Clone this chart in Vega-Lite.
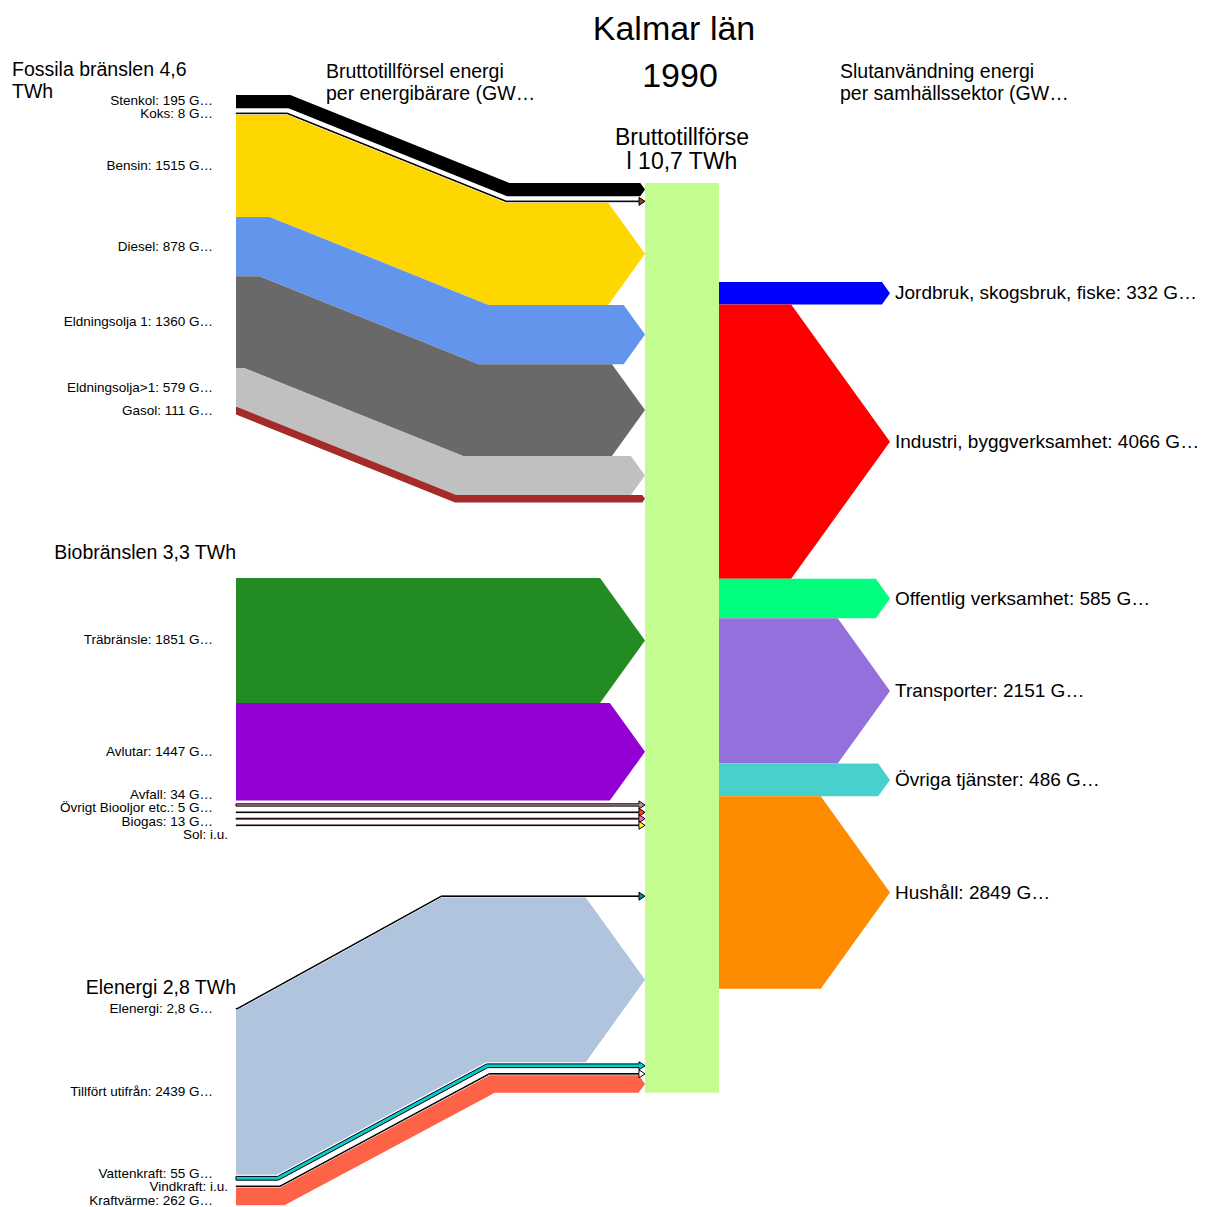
{
  "$schema": "https://vega.github.io/schema/vega-lite/v6.json",
  "width": 1205,
  "height": 1207,
  "autosize": {"type": "none"},
  "padding": 0,
  "background": "white",
  "config": {"view": {"stroke": null}, "text": {"font": "Liberation Sans", "color": "black"}},
  "datasets": {
    "sources": [
      {"group": "fossil", "ord": 1, "name": "Stenkol", "gwh": 195, "label": "Stenkol: 195 G…"},
      {"group": "fossil", "ord": 2, "name": "Koks", "gwh": 8, "label": "Koks: 8 G…"},
      {"group": "fossil", "ord": 3, "name": "Bensin", "gwh": 1515, "label": "Bensin: 1515 G…"},
      {"group": "fossil", "ord": 4, "name": "Diesel", "gwh": 878, "label": "Diesel: 878 G…"},
      {"group": "fossil", "ord": 5, "name": "Eldningsolja 1", "gwh": 1360, "label": "Eldningsolja 1: 1360 G…"},
      {"group": "fossil", "ord": 6, "name": "Eldningsolja>1", "gwh": 579, "label": "Eldningsolja>1: 579 G…"},
      {"group": "fossil", "ord": 7, "name": "Gasol", "gwh": 111, "label": "Gasol: 111 G…"},
      {"group": "bio", "ord": 1, "name": "Träbränsle", "gwh": 1851, "label": "Träbränsle: 1851 G…"},
      {"group": "bio", "ord": 2, "name": "Avlutar", "gwh": 1447, "label": "Avlutar: 1447 G…"},
      {"group": "bio", "ord": 3, "name": "Avfall", "gwh": 34, "label": "Avfall: 34 G…"},
      {"group": "bio", "ord": 4, "name": "Övrigt Biooljor etc.", "gwh": 5, "label": "Övrigt Biooljor etc.: 5 G…"},
      {"group": "bio", "ord": 5, "name": "Biogas", "gwh": 13, "label": "Biogas: 13 G…"},
      {"group": "bio", "ord": 6, "name": "Sol", "gwh": 0, "label": "Sol: i.u."},
      {"group": "el", "ord": 1, "name": "Elenergi", "gwh": 2.8, "label": "Elenergi: 2,8 G…"},
      {"group": "el", "ord": 2, "name": "Tillfört utifrån", "gwh": 2439, "label": "Tillfört utifrån: 2439 G…"},
      {"group": "el", "ord": 3, "name": "Vattenkraft", "gwh": 55, "label": "Vattenkraft: 55 G…"},
      {"group": "el", "ord": 4, "name": "Vindkraft", "gwh": 0, "label": "Vindkraft: i.u."},
      {"group": "el", "ord": 5, "name": "Kraftvärme", "gwh": 262, "label": "Kraftvärme: 262 G…"}
    ],
    "sectors": [
      {"ord": 1, "name": "Jordbruk, skogsbruk, fiske", "gwh": 332, "label": "Jordbruk, skogsbruk, fiske: 332 G…"},
      {"ord": 2, "name": "Industri, byggverksamhet", "gwh": 4066, "label": "Industri, byggverksamhet: 4066 G…"},
      {"ord": 3, "name": "Offentlig verksamhet", "gwh": 585, "label": "Offentlig verksamhet: 585 G…"},
      {"ord": 4, "name": "Transporter", "gwh": 2151, "label": "Transporter: 2151 G…"},
      {"ord": 5, "name": "Övriga tjänster", "gwh": 486, "label": "Övriga tjänster: 486 G…"},
      {"ord": 6, "name": "Hushåll", "gwh": 2849, "label": "Hushåll: 2849 G…"}
    ]
  },
  "layer": [
    {
      "data": {"name": "sources"},
      "transform": [
        {"calculate": "datum.gwh * 0.0675", "as": "h"},
        {"calculate": "max(datum.h, 6.5)", "as": "slot"},
        {"calculate": "datum.slot > datum.h", "as": "tiny"},
        {"window": [{"op": "sum", "field": "slot", "as": "cum"}, {"op": "row_number", "as": "rank"}], "groupby": ["group"], "sort": [{"field": "ord", "order": "ascending"}], "frame": [null, 0]},
        {"joinaggregate": [{"op": "sum", "field": "slot", "as": "gtot"}], "groupby": ["group"]},
        {"calculate": "datum.group === 'fossil' ? 95 : datum.group === 'bio' ? 578 : 1003.5", "as": "L0"},
        {"calculate": "datum.group === 'fossil' ? 183 : datum.group === 'bio' ? 578 : 891", "as": "R0"},
        {"calculate": "datum.tiny ? max(datum.h, 0.6) : datum.h", "as": "core"},
        {"calculate": "datum.tiny ? datum.cum - datum.core / 2 - 1 : datum.cum - datum.slot / 2", "as": "ec"},
        {"calculate": "datum.ec - datum.core / 2", "as": "eT"},
        {"calculate": "datum.ec + datum.core / 2", "as": "eB"},
        {"calculate": "datum.group === 'fossil' ? 236 + 0.17 * (datum.gtot - datum.eT) : datum.group === 'el' ? 236 + 0.24 * datum.eT : 300", "as": "aT"},
        {"calculate": "datum.group === 'fossil' ? 236 + 0.17 * (datum.gtot - datum.eB) : datum.group === 'el' ? 236 + 0.24 * datum.eB : 300", "as": "aB"},
        {"calculate": "datum.group === 'fossil' ? 455 + 0.17 * (datum.gtot - datum.eT) : datum.group === 'el' ? 440 + 0.27 * datum.eT : 500", "as": "bT"},
        {"calculate": "datum.group === 'fossil' ? 455 + 0.17 * (datum.gtot - datum.eB) : datum.group === 'el' ? 440 + 0.27 * datum.eB : 500", "as": "bB"},
        {"calculate": "datum.tiny ? 4 : datum.core / 2", "as": "ah"},
        {"calculate": "645 - (datum.tiny ? 6 : 0.36 * datum.core)", "as": "c"},
        {"calculate": "datum.L0 + datum.ec", "as": "yLC"},
        {"calculate": "datum.R0 + datum.ec", "as": "yRC"}
      ],
      "layer": [
        {
          "transform": [
            {"calculate": "datum.R0 + datum.cum - datum.slot", "as": "rt"},
            {"calculate": "datum.R0 + datum.cum", "as": "rb"},
            {"aggregate": [{"op": "min", "field": "rt", "as": "bt"}, {"op": "max", "field": "rb", "as": "bb"}]}
          ],
          "mark": {"type": "rect", "color": "#C4FD8F"},
          "encoding": {
            "x": {"datum": 645, "type": "quantitative", "scale": {"domain": [0, 1205], "nice": false, "zero": false}, "axis": null},
            "x2": {"datum": 719},
            "y": {"field": "bt", "type": "quantitative", "scale": {"domain": [0, 1207], "nice": false, "zero": false, "reverse": true}, "axis": null},
            "y2": {"field": "bb"}
          }
        },
        {
          "transform": [
            {"filter": "!datum.tiny"},
            {"fold": ["s0", "s1", "s2", "s3", "s4", "s5", "s6", "s7"]},
            {"calculate": "datum.key === 's0' ? 236 : datum.key === 's1' ? datum.aT : datum.key === 's2' ? datum.aB : datum.key === 's3' ? datum.bT : datum.key === 's4' ? datum.bB : datum.key === 's5' ? datum.c - 0.01 : datum.key === 's6' ? datum.c : 645", "as": "xs"},
            {"calculate": "datum.key === 's6' ? datum.yRC - datum.ah : datum.key === 's7' ? datum.yRC : datum.L0 + datum.eT + (datum.R0 - datum.L0) * clamp((datum.xs - datum.aT) / (datum.bT - datum.aT), 0, 1)", "as": "yt"},
            {"calculate": "datum.key === 's6' ? datum.yRC + datum.ah : datum.key === 's7' ? datum.yRC : datum.L0 + datum.eB + (datum.R0 - datum.L0) * clamp((datum.xs - datum.aB) / (datum.bB - datum.aB), 0, 1)", "as": "yb"}
          ],
          "mark": {"type": "area", "interpolate": "linear"},
          "encoding": {
            "x": {"field": "xs", "type": "quantitative", "scale": {"domain": [0, 1205], "nice": false, "zero": false}, "axis": null},
            "y": {"field": "yt", "type": "quantitative", "stack": null, "scale": {"domain": [0, 1207], "nice": false, "zero": false, "reverse": true}, "axis": null},
            "y2": {"field": "yb"},
            "color": {"field": "name", "type": "nominal", "legend": null, "scale": {
              "domain": ["Stenkol", "Koks", "Bensin", "Diesel", "Eldningsolja 1", "Eldningsolja>1", "Gasol", "Träbränsle", "Avlutar", "Avfall", "Övrigt Biooljor etc.", "Biogas", "Sol", "Elenergi", "Tillfört utifrån", "Vattenkraft", "Vindkraft", "Kraftvärme", "Jordbruk, skogsbruk, fiske", "Industri, byggverksamhet", "Offentlig verksamhet", "Transporter", "Övriga tjänster", "Hushåll"],
              "range": ["#000000", "#8B4513", "#FFD700", "#6495ED", "#696969", "#C0C0C0", "#A52A2A", "#228B22", "#9400D3", "#BC8F8F", "#FF4500", "#FF69B4", "#FFFF00", "#008B8B", "#B0C4DE", "#00CED1", "#FFFFFF", "#FF6347", "#0000FF", "#FF0000", "#00FF7F", "#9370DB", "#48D1CC", "#FF8C00"]}}
          }
        },
        {
          "transform": [
            {"filter": "datum.tiny"},
            {"fold": ["s0", "s1", "s2", "s3", "s4", "s5", "s6", "s7"]},
            {"calculate": "datum.key === 's0' ? 236 : datum.key === 's1' ? datum.aT : datum.key === 's2' ? datum.aB : datum.key === 's3' ? datum.bT : datum.key === 's4' ? datum.bB : datum.key === 's5' ? datum.c - 0.01 : datum.key === 's6' ? datum.c : 645", "as": "xs"},
            {"calculate": "datum.key === 's6' ? datum.yRC - datum.ah : datum.key === 's7' ? datum.yRC : datum.L0 + datum.eT + (datum.R0 - datum.L0) * clamp((datum.xs - datum.aT) / (datum.bT - datum.aT), 0, 1)", "as": "yt"},
            {"calculate": "datum.key === 's6' ? datum.yRC + datum.ah : datum.key === 's7' ? datum.yRC : datum.L0 + datum.eB + (datum.R0 - datum.L0) * clamp((datum.xs - datum.aB) / (datum.bB - datum.aB), 0, 1)", "as": "yb"}
          ],
          "mark": {"type": "area", "interpolate": "linear", "stroke": "black", "strokeWidth": 1},
          "encoding": {
            "x": {"field": "xs", "type": "quantitative", "scale": {"domain": [0, 1205], "nice": false, "zero": false}, "axis": null},
            "y": {"field": "yt", "type": "quantitative", "stack": null, "scale": {"domain": [0, 1207], "nice": false, "zero": false, "reverse": true}, "axis": null},
            "y2": {"field": "yb"},
            "color": {"field": "name", "type": "nominal", "legend": null, "scale": {
              "domain": ["Stenkol", "Koks", "Bensin", "Diesel", "Eldningsolja 1", "Eldningsolja>1", "Gasol", "Träbränsle", "Avlutar", "Avfall", "Övrigt Biooljor etc.", "Biogas", "Sol", "Elenergi", "Tillfört utifrån", "Vattenkraft", "Vindkraft", "Kraftvärme", "Jordbruk, skogsbruk, fiske", "Industri, byggverksamhet", "Offentlig verksamhet", "Transporter", "Övriga tjänster", "Hushåll"],
              "range": ["#000000", "#8B4513", "#FFD700", "#6495ED", "#696969", "#C0C0C0", "#A52A2A", "#228B22", "#9400D3", "#BC8F8F", "#FF4500", "#FF69B4", "#FFFF00", "#008B8B", "#B0C4DE", "#00CED1", "#FFFFFF", "#FF6347", "#0000FF", "#FF0000", "#00FF7F", "#9370DB", "#48D1CC", "#FF8C00"]}}
          }
        },
        {
          "transform": [
            {"calculate": "datum.yLC - 13.5 * datum.rank", "as": "t"},
            {"window": [{"op": "max", "field": "t", "as": "tdown"}], "groupby": ["group"], "sort": [{"field": "ord", "order": "ascending"}], "frame": [null, 0]},
            {"window": [{"op": "min", "field": "t", "as": "tup"}], "groupby": ["group"], "sort": [{"field": "ord", "order": "ascending"}], "frame": [0, null]},
            {"calculate": "(datum.tdown + datum.tup) / 2 + 13.5 * datum.rank", "as": "ly"},
            {"calculate": "datum.gwh === 0 ? 228 : 213", "as": "lx"}
          ],
          "mark": {"type": "text", "align": "right", "baseline": "middle", "fontSize": 13.5},
          "encoding": {
            "x": {"field": "lx", "type": "quantitative", "scale": {"domain": [0, 1205], "nice": false, "zero": false}, "axis": null},
            "y": {"field": "ly", "type": "quantitative", "scale": {"domain": [0, 1207], "nice": false, "zero": false, "reverse": true}, "axis": null},
            "text": {"field": "label"}
          }
        }
      ]
    },
    {
      "data": {"name": "sectors"},
      "transform": [
        {"calculate": "datum.gwh * 0.0675", "as": "h"},
        {"window": [{"op": "sum", "field": "h", "as": "cum"}], "sort": [{"field": "ord", "order": "ascending"}], "frame": [null, 0]},
        {"calculate": "282 + datum.cum - datum.h", "as": "top"},
        {"calculate": "282 + datum.cum", "as": "bot"},
        {"calculate": "(datum.top + datum.bot) / 2", "as": "mid"},
        {"calculate": "890 - 0.36 * datum.h", "as": "c"}
      ],
      "layer": [
        {
          "transform": [
            {"fold": ["r0", "r1", "r2"]},
            {"calculate": "datum.key === 'r0' ? 719 : datum.key === 'r1' ? datum.c : 890", "as": "xs"},
            {"calculate": "datum.key === 'r2' ? datum.mid : datum.top", "as": "yt"},
            {"calculate": "datum.key === 'r2' ? datum.mid : datum.bot", "as": "yb"}
          ],
          "mark": {"type": "area", "interpolate": "linear"},
          "encoding": {
            "x": {"field": "xs", "type": "quantitative", "scale": {"domain": [0, 1205], "nice": false, "zero": false}, "axis": null},
            "y": {"field": "yt", "type": "quantitative", "stack": null, "scale": {"domain": [0, 1207], "nice": false, "zero": false, "reverse": true}, "axis": null},
            "y2": {"field": "yb"},
            "color": {"field": "name", "type": "nominal", "legend": null, "scale": {
              "domain": ["Stenkol", "Koks", "Bensin", "Diesel", "Eldningsolja 1", "Eldningsolja>1", "Gasol", "Träbränsle", "Avlutar", "Avfall", "Övrigt Biooljor etc.", "Biogas", "Sol", "Elenergi", "Tillfört utifrån", "Vattenkraft", "Vindkraft", "Kraftvärme", "Jordbruk, skogsbruk, fiske", "Industri, byggverksamhet", "Offentlig verksamhet", "Transporter", "Övriga tjänster", "Hushåll"],
              "range": ["#000000", "#8B4513", "#FFD700", "#6495ED", "#696969", "#C0C0C0", "#A52A2A", "#228B22", "#9400D3", "#BC8F8F", "#FF4500", "#FF69B4", "#FFFF00", "#008B8B", "#B0C4DE", "#00CED1", "#FFFFFF", "#FF6347", "#0000FF", "#FF0000", "#00FF7F", "#9370DB", "#48D1CC", "#FF8C00"]}}
          }
        },
        {
          "mark": {"type": "text", "align": "left", "baseline": "middle", "fontSize": 19},
          "encoding": {
            "x": {"datum": 895, "type": "quantitative", "scale": {"domain": [0, 1205], "nice": false, "zero": false}, "axis": null},
            "y": {"field": "mid", "type": "quantitative", "scale": {"domain": [0, 1207], "nice": false, "zero": false, "reverse": true}, "axis": null},
            "text": {"field": "label"}
          }
        }
      ]
    },
    {
      "data": {"values": [{"t": "Kalmar län"}]},
      "mark": {"type": "text", "align": "center", "baseline": "middle", "fontSize": 34},
      "encoding": {
        "x": {"datum": 674, "type": "quantitative", "scale": {"domain": [0, 1205], "nice": false, "zero": false}, "axis": null},
        "y": {"datum": 30, "type": "quantitative", "scale": {"domain": [0, 1207], "nice": false, "zero": false, "reverse": true}, "axis": null},
        "text": {"field": "t"}
      }
    },
    {
      "data": {"values": [{"t": "1990"}]},
      "mark": {"type": "text", "align": "center", "baseline": "middle", "fontSize": 34},
      "encoding": {
        "x": {"datum": 680, "type": "quantitative", "scale": {"domain": [0, 1205], "nice": false, "zero": false}, "axis": null},
        "y": {"datum": 77, "type": "quantitative", "scale": {"domain": [0, 1207], "nice": false, "zero": false, "reverse": true}, "axis": null},
        "text": {"field": "t"}
      }
    },
    {
      "data": {"values": [{"t": "Bruttotillförse\nl 10,7 TWh"}]},
      "mark": {"type": "text", "align": "center", "baseline": "middle", "fontSize": 23, "lineBreak": "\n", "lineHeight": 24},
      "encoding": {
        "x": {"datum": 682, "type": "quantitative", "scale": {"domain": [0, 1205], "nice": false, "zero": false}, "axis": null},
        "y": {"datum": 138, "type": "quantitative", "scale": {"domain": [0, 1207], "nice": false, "zero": false, "reverse": true}, "axis": null},
        "text": {"field": "t"}
      }
    },
    {
      "data": {"values": [{"t": "Fossila bränslen 4,6\nTWh"}]},
      "mark": {"type": "text", "align": "left", "baseline": "middle", "fontSize": 19.5, "lineBreak": "\n", "lineHeight": 22},
      "encoding": {
        "x": {"datum": 12, "type": "quantitative", "scale": {"domain": [0, 1205], "nice": false, "zero": false}, "axis": null},
        "y": {"datum": 70, "type": "quantitative", "scale": {"domain": [0, 1207], "nice": false, "zero": false, "reverse": true}, "axis": null},
        "text": {"field": "t"}
      }
    },
    {
      "data": {"values": [{"t": "Bruttotillförsel energi\nper energibärare (GW…"}]},
      "mark": {"type": "text", "align": "left", "baseline": "middle", "fontSize": 19.5, "lineBreak": "\n", "lineHeight": 22},
      "encoding": {
        "x": {"datum": 326, "type": "quantitative", "scale": {"domain": [0, 1205], "nice": false, "zero": false}, "axis": null},
        "y": {"datum": 72, "type": "quantitative", "scale": {"domain": [0, 1207], "nice": false, "zero": false, "reverse": true}, "axis": null},
        "text": {"field": "t"}
      }
    },
    {
      "data": {"values": [{"t": "Slutanvändning energi\nper samhällssektor (GW…"}]},
      "mark": {"type": "text", "align": "left", "baseline": "middle", "fontSize": 19.5, "lineBreak": "\n", "lineHeight": 22},
      "encoding": {
        "x": {"datum": 840, "type": "quantitative", "scale": {"domain": [0, 1205], "nice": false, "zero": false}, "axis": null},
        "y": {"datum": 72, "type": "quantitative", "scale": {"domain": [0, 1207], "nice": false, "zero": false, "reverse": true}, "axis": null},
        "text": {"field": "t"}
      }
    },
    {
      "data": {"values": [{"t": "Biobränslen 3,3 TWh"}]},
      "mark": {"type": "text", "align": "right", "baseline": "middle", "fontSize": 19.5},
      "encoding": {
        "x": {"datum": 236, "type": "quantitative", "scale": {"domain": [0, 1205], "nice": false, "zero": false}, "axis": null},
        "y": {"datum": 553, "type": "quantitative", "scale": {"domain": [0, 1207], "nice": false, "zero": false, "reverse": true}, "axis": null},
        "text": {"field": "t"}
      }
    },
    {
      "data": {"values": [{"t": "Elenergi 2,8 TWh"}]},
      "mark": {"type": "text", "align": "right", "baseline": "middle", "fontSize": 19.5},
      "encoding": {
        "x": {"datum": 236, "type": "quantitative", "scale": {"domain": [0, 1205], "nice": false, "zero": false}, "axis": null},
        "y": {"datum": 988, "type": "quantitative", "scale": {"domain": [0, 1207], "nice": false, "zero": false, "reverse": true}, "axis": null},
        "text": {"field": "t"}
      }
    }
  ]
}
